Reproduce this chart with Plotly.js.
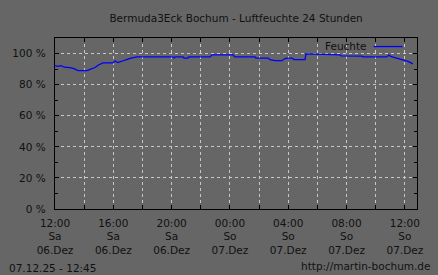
<!DOCTYPE html>
<html>
<head>
<meta charset="utf-8">
<script src="https://cdn.plot.ly/plotly-3.0.1.min.js"></script>
<style>html,body{margin:0;padding:0;background:#666666;}#chart{width:438px;height:275px;}</style>
</head>
<body>
<div id="chart"></div>
<script>
const times = [
  '2025-12-06 12:00','2025-12-06 12:12','2025-12-06 12:25','2025-12-06 12:37','2025-12-06 13:02',
  '2025-12-06 13:18','2025-12-06 13:35','2025-12-06 14:12','2025-12-06 14:24','2025-12-06 14:45',
  '2025-12-06 14:57','2025-12-06 15:17','2025-12-06 15:59','2025-12-06 16:07','2025-12-06 16:19',
  '2025-12-06 16:36','2025-12-06 16:52','2025-12-06 17:13','2025-12-06 17:37','2025-12-06 20:05',
  '2025-12-06 20:10','2025-12-06 20:14','2025-12-06 20:47','2025-12-06 20:51','2025-12-06 21:07',
  '2025-12-06 21:11','2025-12-06 22:38','2025-12-06 22:46','2025-12-07 00:12','2025-12-07 00:21',
  '2025-12-07 01:43','2025-12-07 01:47','2025-12-07 02:37','2025-12-07 02:45','2025-12-07 03:05',
  '2025-12-07 03:34','2025-12-07 03:47','2025-12-07 03:59','2025-12-07 04:15','2025-12-07 04:24',
  '2025-12-07 05:09','2025-12-07 05:13','2025-12-07 06:02','2025-12-07 07:33','2025-12-07 07:37',
  '2025-12-07 09:03','2025-12-07 09:07','2025-12-07 10:46','2025-12-07 10:54','2025-12-07 11:02',
  '2025-12-07 11:15','2025-12-07 11:32','2025-12-07 11:48','2025-12-07 12:13','2025-12-07 12:33'
];
const feuchte = [
  92.3, 91.8, 92.2, 91.2, 91.0,
  90.3, 89.0, 89.0, 89.8, 91.0,
  92.5, 94.0, 94.0, 95.2, 94.2,
  95.3, 96.0, 97.0, 97.8, 97.8,
  97.2, 97.8, 97.8, 97.1, 97.1,
  97.8, 97.8, 99.1, 99.1, 97.8,
  97.8, 97.1, 97.1, 96.1, 95.4,
  95.4, 96.8, 97.1, 97.0, 96.1,
  96.1, 99.8, 99.6, 99.1, 98.5,
  98.3, 97.8, 97.8, 99.0, 98.2,
  97.6, 96.8, 96.0, 95.0, 93.4
];
const tickVals = ['2025-12-06 12:00','2025-12-06 16:00','2025-12-06 20:00','2025-12-07 00:00','2025-12-07 04:00','2025-12-07 08:00','2025-12-07 12:00'];
const tickText = ['12:00<br>Sa<br>06.Dez','16:00<br>Sa<br>06.Dez','20:00<br>Sa<br>06.Dez','00:00<br>So<br>07.Dez','04:00<br>So<br>07.Dez','08:00<br>So<br>07.Dez','12:00<br>So<br>07.Dez'];
const yTickVals = [0, 20, 40, 60, 80, 100];
const yTickText = ['0 %', '20 %', '40 %', '60 %', '80 %', '100 %'];
const seriesName = 'Feuchte';
const titleText = 'Bermuda3Eck Bochum - Luftfeuchte 24 Stunden';
const stampText = '07.12.25 - 12:45';
const urlText = 'http://martin-bochum.de';

const FONT = 'DejaVu Sans';
const TXT = '#111111';
const GRID = '#c8c8c8';
const DASH = '3px,3px';

const trace = {
  x: times, y: feuchte, type: 'scatter', mode: 'lines', name: seriesName,
  line: {color: '#0000ff', width: 1.3}, showlegend: false
};

const layout = {
  width: 438, height: 275,
  paper_bgcolor: '#666666', plot_bgcolor: '#666666',
  margin: {l: 55, r: 21, t: 38, b: 66, pad: 0},
  font: {family: FONT, size: 10, color: TXT},
  title: {text: titleText, x: 0.539, xanchor: 'center', y: 0.935, yanchor: 'middle',
          font: {family: FONT, size: 10.5, color: TXT}},
  xaxis: {
    type: 'date', range: ['2025-12-06 12:00', '2025-12-07 12:50'],
    tickmode: 'array', tickvals: tickVals, ticktext: tickText,
    ticks: 'inside', ticklen: 4, tickcolor: '#000', tickwidth: 1,
    ticklabelstandoff: 4,
    showline: true, linecolor: '#000', linewidth: 1.2, mirror: 'ticks',
    showgrid: true, gridcolor: GRID, griddash: DASH, gridwidth: 1,
    minor: {dtick: 2*3600*1000, tick0: '2025-12-06 12:00', ticks: 'inside', ticklen: 4, tickcolor: '#000', showgrid: true, gridcolor: GRID, griddash: DASH, gridwidth: 1},
    zeroline: false, tickfont: {family: FONT, size: 10.5, color: TXT}, fixedrange: true
  },
  yaxis: {
    range: [0, 110], tickmode: 'array', tickvals: yTickVals, ticktext: yTickText,
    ticks: 'inside', ticklen: 4, tickcolor: '#000',
    ticklabelstandoff: 6,
    showline: true, linecolor: '#000', linewidth: 1.2, mirror: 'ticks',
    showgrid: true, gridcolor: GRID, griddash: DASH, gridwidth: 1,
    minor: {dtick: 10, ticks: 'inside', ticklen: 3, tickcolor: '#000', showgrid: false},
    zeroline: false, tickfont: {family: FONT, size: 10.5, color: TXT}, fixedrange: true
  },
  annotations: [
    {text: seriesName, xref: 'paper', yref: 'paper', x: 0.868, y: 1.0, xanchor: 'right', yanchor: 'top',
     showarrow: false, font: {family: FONT, size: 10.5, color: TXT}},
    {text: stampText, xref: 'paper', yref: 'paper', x: -0.133, y: -0.345, xanchor: 'left', yanchor: 'middle',
     showarrow: false, font: {family: FONT, size: 10.5, color: TXT}},
    {text: urlText, xref: 'paper', yref: 'paper', x: 1.045, y: -0.335, xanchor: 'right', yanchor: 'middle',
     showarrow: false, font: {family: FONT, size: 10.5, color: TXT}}
  ],
  shapes: [
    {type: 'line', xref: 'paper', yref: 'paper', x0: 0.88, x1: 0.96, y0: 0.95, y1: 0.95,
     line: {color: '#0000ff', width: 1.3}}
  ]
};

Plotly.newPlot('chart', [trace], layout, {displayModeBar: false, staticPlot: true});
</script>
</body>
</html>
